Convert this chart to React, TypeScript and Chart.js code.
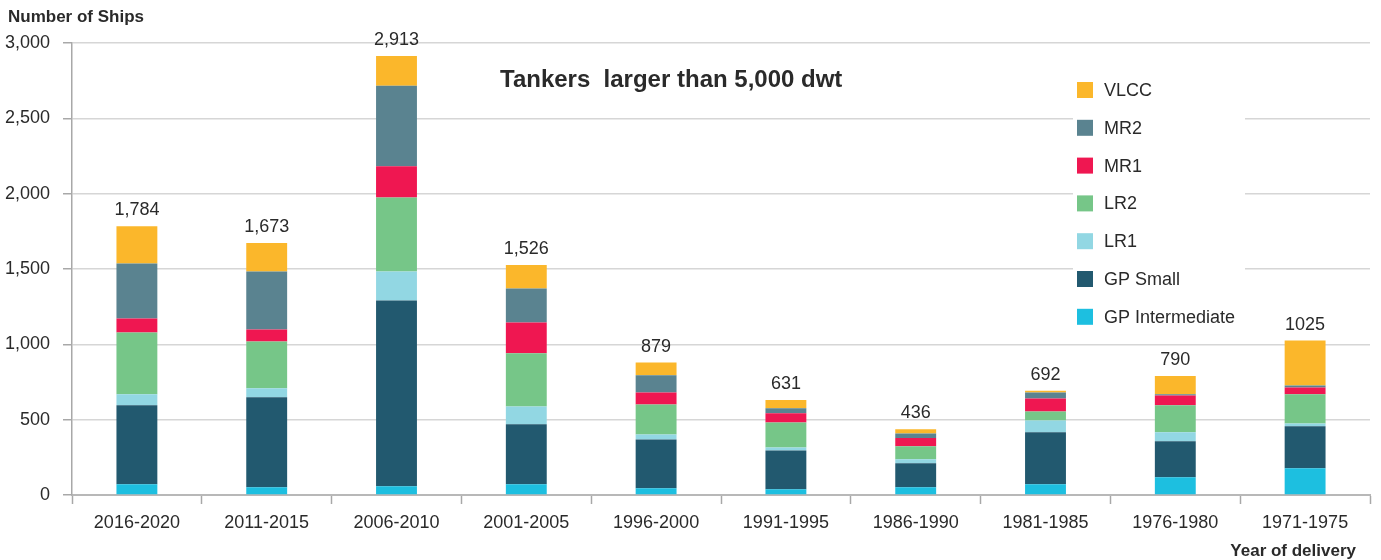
import React, { useEffect, useRef } from "react";
import { Chart, registerables } from "chart.js";

Chart.register(...registerables);

const categories = ["2016-2020", "2011-2015", "2006-2010", "2001-2005", "1996-2000", "1991-1995", "1986-1990", "1981-1985", "1976-1980", "1971-1975"];
const totalLabels = ["1,784", "1,673", "2,913", "1,526", "879", "631", "436", "692", "790", "1025"];

const gpIntermediate = [71, 51, 58, 71, 44, 38, 51, 71, 117, 177];
const gpSmall = [524, 597, 1233, 398, 325, 258, 159, 345, 239, 279];
const lr1 = [73, 60, 192, 119, 33, 20, 27, 79, 60, 19];
const lr2 = [411, 311, 491, 352, 199, 166, 86, 60, 179, 193];
const mr1 = [93, 80, 208, 205, 80, 60, 55, 86, 66, 46];
const mr2 = [364, 384, 535, 226, 113, 33, 31, 40, 7, 13];
const vlcc = [248, 190, 196, 155, 85, 56, 27, 11, 122, 298];

const seriesNames = ["GP Intermediate", "GP Small", "LR1", "LR2", "MR1", "MR2", "VLCC"];
const seriesColors = ["#1DBFE0", "#22596F", "#92D7E3", "#76C688", "#EF1751", "#5A8390", "#FBB72B"];
const seriesData = [gpIntermediate, gpSmall, lr1, lr2, mr1, mr2, vlcc];

const yTicks = [0, 500, 1000, 1500, 2000, 2500, 3000];

const FONT = "'Liberation Sans', Arial, Helvetica, sans-serif";
const TEXT = "#2a2a2a";

const overlayPlugin = {
  id: "overlay",
  afterDraw(chart: any) {
    const ctx = chart.ctx;
    const yScale = chart.scales.y;
    ctx.save();
    // data labels
    const lastMeta = chart.getDatasetMeta(chart.data.datasets.length - 1);
    ctx.font = `18px ${FONT}`;
    ctx.fillStyle = TEXT;
    ctx.textAlign = "center";
    ctx.textBaseline = "alphabetic";
    categories.forEach((_, i) => {
      let total = 0;
      seriesData.forEach((s) => (total += s[i]));
      const x = lastMeta.data[i].x;
      const y = yScale.getPixelForValue(total);
      ctx.fillText(totalLabels[i], x, y - 11);
    });
    // axis titles
    ctx.font = `bold 17px ${FONT}`;
    ctx.textAlign = "left";
    ctx.fillText("Number of Ships", 8, 22);
    ctx.textAlign = "right";
    ctx.fillText("Year of delivery", 1356, 556);
    // chart title
    ctx.font = `bold 24px ${FONT}`;
    ctx.textAlign = "left";
    ctx.fillText("Tankers  larger than 5,000 dwt", 500, 87);
    // legend
    ctx.fillStyle = "#ffffff";
    ctx.fillRect(1073, 68, 172, 264);
    const order = [6, 5, 4, 3, 2, 1, 0];
    ctx.font = `18px ${FONT}`;
    ctx.textBaseline = "middle";
    order.forEach((si, k) => {
      const cy = 90 + k * 37.8;
      ctx.fillStyle = seriesColors[si];
      ctx.fillRect(1077, cy - 8, 16, 16);
      ctx.fillStyle = TEXT;
      ctx.textAlign = "left";
      ctx.fillText(seriesNames[si], 1104, cy + 1);
    });
    ctx.restore();
  },
};

export default function App() {
  const canvasRef = useRef<HTMLCanvasElement | null>(null);

  useEffect(() => {
    const canvas = canvasRef.current;
    if (!canvas) return;
    const chart = new Chart(canvas, {
      type: "bar",
      data: {
        labels: categories,
        datasets: seriesData.map((d, i) => ({
          label: seriesNames[i],
          data: d,
          backgroundColor: seriesColors[i],
          borderWidth: 0,
          barPercentage: 0.63,
          categoryPercentage: 0.5,
        })),
      },
      options: {
        responsive: false,
        animation: false,
        devicePixelRatio: 1,
        layout: { padding: { top: 43, left: 0, right: 11, bottom: 0 } },
        plugins: {
          legend: { display: false },
          tooltip: { enabled: false },
          title: { display: false },
        },
        scales: {
          x: {
            stacked: true,
            grid: {
              display: true,
              drawOnChartArea: false,
              drawTicks: true,
              offset: true,
              tickLength: 9,
              tickColor: "#a8a8a8",
              tickWidth: 1.5,
            },
            border: { display: true, color: "#b8b8b8", width: 2 },
            ticks: {
              color: TEXT,
              font: { family: FONT, size: 18 },
              padding: 8,
              maxRotation: 0,
              autoSkip: false,
            },
            afterFit: (s: any) => {
              s.height = 65;
            },
          },
          y: {
            stacked: true,
            min: 0,
            max: 3000,
            afterBuildTicks: (s: any) => {
              s.ticks = yTicks.map((v) => ({ value: v }));
            },
            grid: {
              color: "#d6d6d6",
              lineWidth: 1.5,
              drawTicks: true,
              tickLength: 9,
              tickColor: "#a8a8a8",
              tickWidth: 1.5,
            },
            border: { display: true, color: "#a8a8a8", width: 1.5 },
            ticks: {
              color: TEXT,
              font: { family: FONT, size: 18 },
              padding: 13,
              callback: (v: any) => Number(v).toLocaleString("en-US"),
            },
            afterFit: (s: any) => {
              s.width = 72;
            },
          },
        },
      },
      plugins: [overlayPlugin],
    });
    return () => chart.destroy();
  }, []);

  return (
    <div style={{ position: "fixed", left: 0, top: 0, width: 1381, height: 560, background: "#fff" }}>
      <canvas ref={canvasRef} width={1381} height={560} style={{ width: 1381, height: 560, display: "block" }} />
    </div>
  );
}
